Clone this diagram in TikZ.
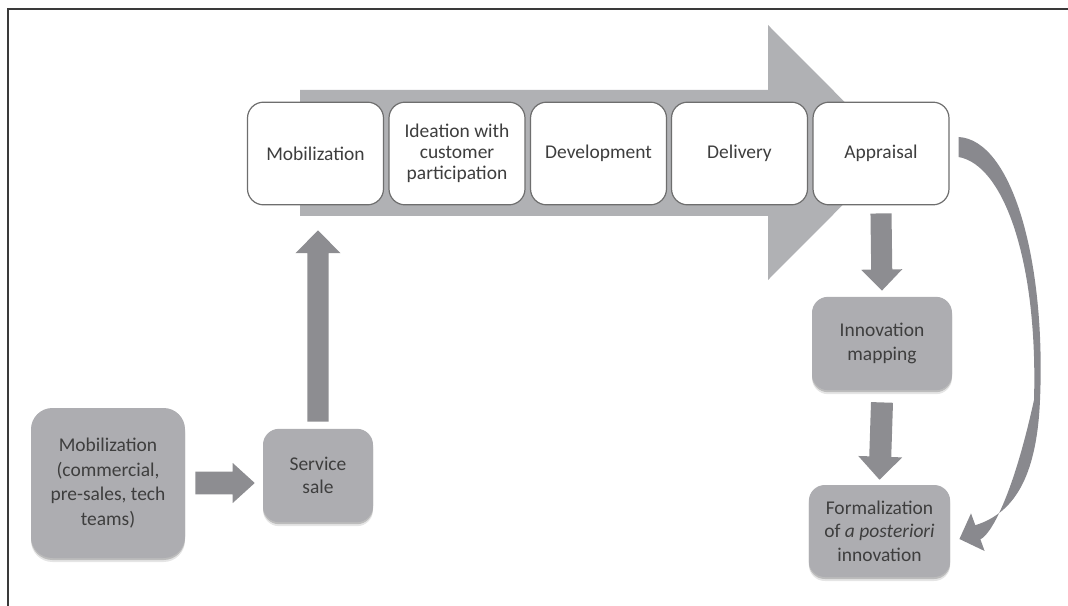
\documentclass[tikz,border=0pt]{standalone}
\usepackage{fontspec}
\setmainfont{Carlito}
\usetikzlibrary{calc,shadows}
\definecolor{boxgray}{HTML}{ADADB1}
\definecolor{bigarrow}{HTML}{B0B1B4}
\definecolor{arrowgray}{HTML}{8D8D91}
\definecolor{curvegray}{HTML}{89898E}
\definecolor{txt}{HTML}{3E3E3E}
\definecolor{framecol}{HTML}{3A3A3A}
\definecolor{edgecol}{HTML}{6E6E6E}
\tikzset{
  whitebox/.style={draw=edgecol, line width=0.9pt, fill=white, rounded corners=12pt,
    minimum width=102pt, minimum height=77pt, inner sep=0pt, align=center, text=txt,
    font=\fontsize{14.6}{15.6}\selectfont},
  graybox/.style={fill=boxgray, rounded corners=12pt, inner sep=0pt, align=center, text=txt,
    font=\fontsize{14.6}{17.6}\selectfont,
    drop shadow={shadow xshift=0pt, shadow yshift=-1.5pt, opacity=0.18, fill=black},
    drop shadow={shadow xshift=0pt, shadow yshift=-3pt, opacity=0.10, fill=black}},
  arrowfill/.style={fill=arrowgray},
}
% block arrow: #1 start, #2 tip, #3 shaft half width, #4 head half width, #5 head length
\newcommand\blockarrow[5]{%
  \coordinate (hb) at ($(#2)!#5!(#1)$);
  \fill[arrowfill] ($(#1)!#3!90:(#2)$) -- ($(hb)!#3!90:(#2)$) -- ($(hb)!#4!90:(#2)$) -- (#2)
    -- ($(hb)!#4!-90:(#2)$) -- ($(hb)!#3!-90:(#2)$) -- ($(#1)!#3!-90:(#2)$) -- cycle;
}
\begin{document}
\begin{tikzpicture}[x=0.75pt, y=-0.75pt]
\useasboundingbox (0,0) rectangle (1068,606);
% frame
\draw[framecol, line width=1.5pt] (8,606) -- (8,9) -- (1068,9);
% big process arrow
\fill[bigarrow] (300,90) -- (768,90) -- (768,25) -- (895,152.5) -- (768,280) -- (768,216) -- (300,216) -- cycle;
% top stages
\node[whitebox] (s1) at (315.5,153.5) {Mobilization};
\node[whitebox] (s2) at (457,153.5) {Ideation with\\customer\\participation};
\node[whitebox] (s3) at (598.5,153.5) {Development};
\node[whitebox] (s4) at (739.5,153.5) {Delivery};
\node[whitebox] (s5) at (881,153.5) {Appraisal};
% gray boxes
\node[graybox, minimum width=115.5pt, minimum height=112.5pt, rounded corners=16pt,
  font=\fontsize{14.6}{18.4}\selectfont] (mob) at (108,483) {Mobilization\\(commercial,\\pre-sales, tech\\teams)};
\node[graybox, minimum width=82.5pt, minimum height=70pt] (sale) at (318,475.5) {Service\\sale};
\node[graybox, minimum width=105pt, minimum height=70pt] (inno) at (882,343.5) {Innovation\\mapping};
\node[graybox, minimum width=106pt, minimum height=69pt] (form) at (879.5,531) {Formalization\\of \textit{a posteriori}\\innovation};
% straight connectors
\coordinate (ra1) at ($(mob.east)+(10,0)$);
\coordinate (ra2) at ($(mob.east -| sale.west)+(-8,0)$);
\blockarrow{ra1}{ra2}{8.6pt}{15pt}{16.5pt}
\coordinate (ua1) at ($(sale.north)+(0,-7)$);
\coordinate (ua2) at ($(s1.south -| sale.north)+(0,25)$);
\blockarrow{ua1}{ua2}{7.9pt}{16.9pt}{17pt}
\coordinate (da1) at ($(s5.south)+(0,8)$);
\coordinate (da2) at ($(inno.north)+(0,-6)$);
\blockarrow{da1}{da2}{7.9pt}{15.4pt}{15.8pt}
\coordinate (db1) at ($(inno.south)+(0,12)$);
\coordinate (db2) at ($(form.north)+(0,-5)$);
\blockarrow{db1}{db2}{8.25pt}{16.5pt}{17.3pt}
% curved connector from Appraisal to Formalization
\coordinate (c0) at ($(s5.east)+(9,-16.5)$);
\coordinate (c1) at ($(s5.east)+(9,3.5)$);
\coordinate (ct) at ($(form.east)+(9,8)$);
\fill[curvegray] (c0) .. controls (1012,140) and (1046,260) .. (1040,400)
  .. controls (1037,470) and (1018,512) .. (975.3,525.2) -- (971,513.4) -- (ct) -- (984.6,551) -- (980.4,539.3)
  .. controls (990,535) and (1012,500) .. (1034,400)
  .. controls (1038,262) and (1004,165) .. (c1) -- cycle;
\end{tikzpicture}
\end{document}
